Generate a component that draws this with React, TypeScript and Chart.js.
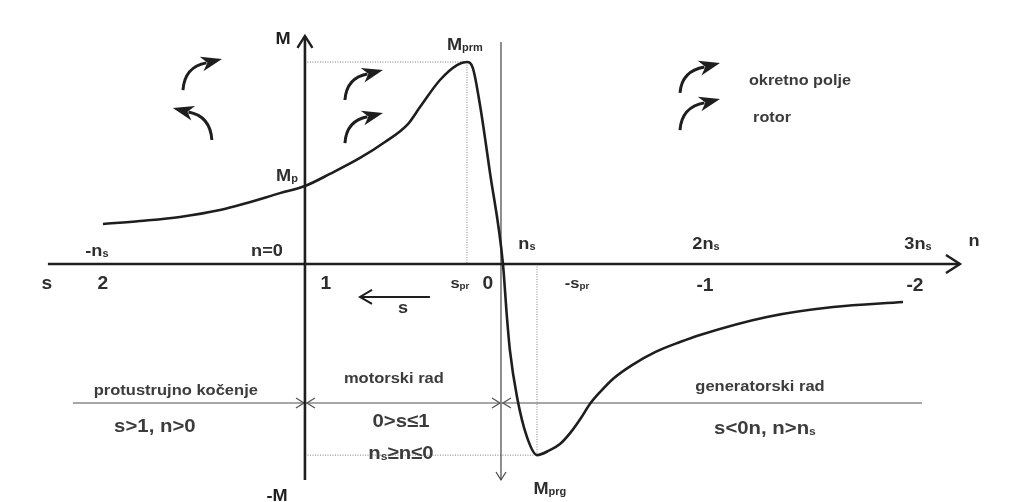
import React, { useEffect, useRef } from "react";
import { Chart, registerables } from "chart.js";

Chart.register(...registerables);

// Torque–speed characteristic of an induction machine.
// n in multiples of synchronous speed n_s, M in multiples of breakdown torque M_prm.
const speedN = [
  -1.02, -0.833, -0.631, -0.429, -0.293, -0.126, 0, 0.126, 0.278, 0.404, 0.52,
  0.581, 0.682, 0.768, 0.818, 0.848, 0.884, 0.934, 1.0, 1.02, 1.035, 1.071,
  1.121, 1.172, 1.237, 1.288, 1.343, 1.394, 1.439, 1.49, 1.561, 1.652, 1.768,
  1.894, 1.995, 2.333, 2.667, 3.02,
];
const torqueM = [
  0.198, 0.213, 0.233, 0.267, 0.302, 0.351, 0.386, 0.446, 0.525, 0.604, 0.693,
  0.777, 0.911, 0.985, 1.0, 0.97, 0.787, 0.455, 0, -0.262, -0.426, -0.658,
  -0.856, -0.946, -0.921, -0.891, -0.832, -0.762, -0.693, -0.634, -0.564,
  -0.5, -0.436, -0.386, -0.351, -0.262, -0.213, -0.188,
];

// key points
const nPrm = 0.818; // speed at motor breakdown torque
const mPrm = 1.0;
const nPrg = 1.172; // speed at generator breakdown torque
const mPrg = -0.946;
const mStart = 0.386; // starting torque M_p

// speed axis ticks (n / n_s) and labels; {..} = subscript
const speedTicks = [-1, 0, 1, 2, 3];
const speedTickLabels = ["-n{s}", "n=0", "n{s}", "2n{s}", "3n{s}"];
// slip axis ticks (slip s) and labels
const slipTicks = [2, 1, 1 - nPrm, 0, 1 - nPrg, -1, -2];
const slipTickLabels = ["2", "1", "s{pr}", "0", "-s{pr}", "-1", "-2"];

// operating regions
const regionTitles = ["protustrujno kočenje", "motorski rad", "generatorski rad"];
const regionConditions = ["s>1, n>0", "0>s≤1", "s<0n, n>n{s}"];
const motorSpeedCondition = "n{s}≥n≤0";
const legendTexts = ["okretno polje", "rotor"];

const FONT = '"Liberation Sans", Arial, Helvetica, sans-serif';
const INK = "#1e1e1e";
const TEXT = "#2e2e2e";
const SOFT = "#3c3c3c";

function richText(ctx: CanvasRenderingContext2D, str: string, cx: number, cy: number, size: number, color: string, sx = 1.1) {
  const parts: { t: string; sub: boolean }[] = [];
  str.replace(/\{([^}]*)\}|([^{]+)/g, (_m: string, sub: string, main: string) => {
    if (sub !== undefined) parts.push({ t: sub, sub: true });
    else parts.push({ t: main, sub: false });
    return "";
  });
  const subSize = Math.round(size * 0.62);
  let w = 0;
  for (const p of parts) {
    ctx.font = `bold ${p.sub ? subSize : size}px ${FONT}`;
    w += ctx.measureText(p.t).width;
  }
  ctx.save();
  ctx.translate(cx, cy);
  ctx.scale(sx, 1);
  ctx.fillStyle = color;
  ctx.textBaseline = "alphabetic";
  ctx.textAlign = "left";
  let xx = -w / 2;
  const base = size * 0.36;
  for (const p of parts) {
    ctx.font = `bold ${p.sub ? subSize : size}px ${FONT}`;
    ctx.fillText(p.t, xx, p.sub ? base + size * 0.05 : base);
    xx += ctx.measureText(p.t).width;
  }
  ctx.restore();
}

function line(ctx: CanvasRenderingContext2D, x1: number, y1: number, x2: number, y2: number, color: string, lw: number, dash: number[] = []) {
  ctx.save();
  ctx.beginPath();
  ctx.setLineDash(dash);
  ctx.moveTo(x1, y1);
  ctx.lineTo(x2, y2);
  ctx.strokeStyle = color;
  ctx.lineWidth = lw;
  ctx.stroke();
  ctx.restore();
}

function chevron(ctx: CanvasRenderingContext2D, tx: number, ty: number, dx: number, dy: number, len: number, half: number, color: string, lw: number) {
  const nx = -dy, ny = dx;
  ctx.save();
  ctx.beginPath();
  ctx.moveTo(tx - dx * len + nx * half, ty - dy * len + ny * half);
  ctx.lineTo(tx, ty);
  ctx.lineTo(tx - dx * len - nx * half, ty - dy * len - ny * half);
  ctx.strokeStyle = color;
  ctx.lineWidth = lw;
  ctx.lineJoin = "miter";
  ctx.stroke();
  ctx.restore();
}

function curvedArrow(ctx: CanvasRenderingContext2D, tx: number, ty: number, px: number, py: number) {
  const dir = px > tx ? 1 : -1;
  let dx = dir, dy = -0.25;
  const L = Math.hypot(dx, dy);
  dx /= L; dy /= L;
  const hl = 19, hw = 7.5;
  const bx = px - dx * hl, by = py - dy * hl;
  ctx.save();
  ctx.beginPath();
  ctx.moveTo(tx, ty);
  ctx.quadraticCurveTo(tx + (bx - tx) * 0.08, by + (ty - by) * 0.12, bx + dx * 3, by + dy * 3);
  ctx.strokeStyle = INK;
  ctx.lineWidth = 3;
  ctx.stroke();
  const nx = -dy, ny = dx;
  ctx.beginPath();
  ctx.moveTo(px, py);
  ctx.lineTo(bx + nx * hw - dx * 2, by + ny * hw - dy * 2);
  ctx.lineTo(bx + dx * 4, by + dy * 4);
  ctx.lineTo(bx - nx * hw - dx * 2, by - ny * hw - dy * 2);
  ctx.closePath();
  ctx.fillStyle = INK;
  ctx.fill();
  ctx.restore();
}

const diagramPlugin = {
  id: "diagram",
  beforeDatasetsDraw(chart: any) {
    const { ctx, scales } = chart;
    const X = (v: number) => scales.x.getPixelForValue(v);
    const Y = (v: number) => scales.y.getPixelForValue(v);

    // dotted guide lines for breakdown torques
    line(ctx, X(0), Y(mPrm), X(nPrm), Y(mPrm), "#777", 1, [1, 1.5]);
    line(ctx, X(nPrm), Y(mPrm), X(nPrm), Y(0), "#888", 1, [1, 1.5]);
    line(ctx, X(0), Y(mPrg), X(nPrg), Y(mPrg), "#777", 1, [1, 1.5]);
    line(ctx, X(nPrg), Y(0), X(nPrg), Y(mPrg), "#888", 1, [1, 1.5]);

    // synchronous-speed vertical line with arrow
    const nsLine = 0.99;
    line(ctx, X(nsLine), Y(1.099), X(nsLine), Y(-1.069), "#444", 1.2);
    chevron(ctx, X(nsLine), Y(-1.069), 0, 1, 8, 5, "#444", 1.2);

    // region separator line
    const mReg = -0.688;
    line(ctx, X(-1.172), Y(mReg), X(3.116), Y(mReg), "#8a8a8a", 1.5);
    for (const nb of [0, nsLine]) {
      chevron(ctx, X(nb) - 1, Y(mReg), 1, 0, 8, 5, "#555", 1.3);
      chevron(ctx, X(nb) + 2, Y(mReg), -1, 0, 8, 5, "#555", 1.3);
    }

    // axes
    line(ctx, X(-1.298), Y(0), X(3.308), Y(0), INK, 2.6);
    chevron(ctx, X(3.308), Y(0), 1, 0, 14, 9, INK, 2.4);
    line(ctx, X(0), Y(-1.069), X(0), Y(1.129), INK, 2.6);
    chevron(ctx, X(0), Y(1.129), 0, -1, 12, 7.5, INK, 2.4);

    // slip direction arrow
    line(ctx, X(0.631), Y(-0.163), X(0.278), Y(-0.163), INK, 2);
    chevron(ctx, X(0.278), Y(-0.163), -1, 0, 12, 7, INK, 2);
  },
  afterDatasetsDraw(chart: any) {
    const { ctx, scales } = chart;
    const X = (v: number) => scales.x.getPixelForValue(v);
    const Y = (v: number) => scales.y.getPixelForValue(v);

    // curved rotation arrows
    curvedArrow(ctx, X(-0.616), Y(0.861), X(-0.419), Y(1.015));
    curvedArrow(ctx, X(-0.47), Y(0.614), X(-0.667), Y(0.772));
    curvedArrow(ctx, X(0.202), Y(0.812), X(0.394), Y(0.96));
    curvedArrow(ctx, X(0.202), Y(0.599), X(0.394), Y(0.748));
    curvedArrow(ctx, X(1.894), Y(0.847), X(2.096), Y(0.995));
    curvedArrow(ctx, X(1.894), Y(0.663), X(2.096), Y(0.817));

    // speed tick labels (above axis)
    const speedDx = [-10, -38, 24, 5, 19];
    const speedDy = [-14, -14, -21, -21, -21];
    speedTicks.forEach((v, i) => {
      richText(ctx, speedTickLabels[i], X(v) + speedDx[i], Y(0) + speedDy[i], 16.5, TEXT);
    });
    // slip tick labels (below axis)
    const slipDx = [-4, 21, -7, -15, 40, 4, 16];
    const slipDy = [19, 19, 19, 19, 19, 21, 21];
    slipTicks.forEach((s, i) => {
      const lbl = slipTickLabels[i];
      const size = lbl.includes("{") ? 15 : 17.5;
      richText(ctx, lbl, X(1 - s) + slipDx[i], Y(0) + slipDy[i], size, TEXT);
    });

    // axis names
    richText(ctx, "s", X(-1.303), Y(-0.094), 17.5, TEXT);
    richText(ctx, "n", X(3.379), Y(0.119), 16.5, TEXT);
    richText(ctx, "M", X(-0.111), Y(1.119), 16.5, INK);
    richText(ctx, "-M", X(-0.141), Y(-1.144), 16.5, INK);
    richText(ctx, "s", X(0.495), Y(-0.213), 16.5, TEXT);

    // torque point labels
    richText(ctx, "M{prm}", X(nPrm - 0.01), Y(1.089), 16.5, TEXT);
    richText(ctx, "M{p}", X(-0.091), Y(mStart + 0.055), 16.5, TEXT);
    richText(ctx, "M{prg}", X(nPrg + 0.065), Y(-1.109), 16.5, TEXT);

    // legend of rotating field / rotor
    richText(ctx, legendTexts[0], X(2.5), Y(0.911), 14.8, SOFT);
    richText(ctx, legendTexts[1], X(2.359), Y(0.728), 14.8, SOFT);

    // region titles and conditions
    richText(ctx, regionTitles[0], X(-0.652), Y(-0.624), 15, SOFT);
    richText(ctx, regionTitles[1], X(0.449), Y(-0.564), 15, SOFT);
    richText(ctx, regionTitles[2], X(2.298), Y(-0.604), 15, SOFT);
    richText(ctx, regionConditions[0], X(-0.758), Y(-0.797), 18.5, SOFT);
    richText(ctx, regionConditions[1], X(0.485), Y(-0.772), 18.5, SOFT);
    richText(ctx, regionConditions[2], X(2.323), Y(-0.807), 18.5, SOFT);
    richText(ctx, motorSpeedCondition, X(0.485), Y(-0.931), 18.5, SOFT);
  },
};

export default function App() {
  const canvasRef = useRef<HTMLCanvasElement | null>(null);

  useEffect(() => {
    const canvas = canvasRef.current;
    if (!canvas) return;
    const chart = new Chart(canvas, {
      type: "line",
      data: {
        datasets: [
          {
            data: speedN.map((n, i) => ({ x: n, y: torqueM[i] })),
            borderColor: INK,
            borderWidth: 2.6,
            pointRadius: 0,
            fill: false,
            cubicInterpolationMode: "monotone",
            clip: false as any,
          },
        ],
      },
      options: {
        animation: false,
        responsive: false,
        devicePixelRatio: 1,
        layout: { padding: 0 },
        plugins: { legend: { display: false }, tooltip: { enabled: false } },
        events: [],
        scales: {
          x: { type: "linear", min: -1.54, max: 3.606, display: false },
          y: { type: "linear", min: -1.178, max: 1.307, display: false },
        },
      },
      plugins: [diagramPlugin],
    });
    return () => chart.destroy();
  }, []);

  return (
    <div style={{ position: "absolute", left: 0, top: 0, width: 1019, height: 502, background: "#fff" }}>
      <canvas ref={canvasRef} width={1019} height={502} style={{ display: "block" }} />
    </div>
  );
}
